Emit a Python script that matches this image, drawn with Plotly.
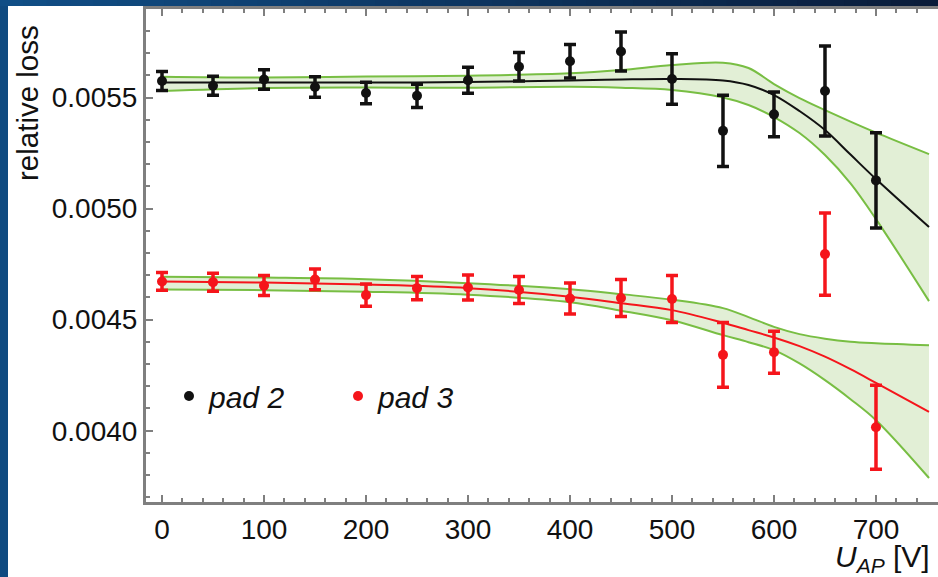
import plotly.graph_objects as go

# Measured points: applied voltage U_AP [V] and relative loss for two pads
volts = [0, 50, 100, 150, 200, 250, 300, 350, 400, 450, 500, 550, 600, 650, 700]

pad2 = [0.0055743, 0.0055527, 0.0055811, 0.0055473, 0.0055203, 0.0055077, 0.0055779,
        0.0056387, 0.0056635, 0.0057072, 0.0055833, 0.0053500, 0.0054243, 0.0055293, 0.0051270]
pad2_err = [0.0000428, 0.0000428, 0.0000435, 0.0000460, 0.0000480, 0.0000525, 0.0000585,
            0.0000646, 0.0000750, 0.0000878, 0.0001140, 0.0001600, 0.0001010, 0.0002030, 0.0002140]

pad3 = [0.0046720, 0.0046689, 0.0046532, 0.0046811, 0.0046104, 0.0046419, 0.0046450,
        0.0046338, 0.0045955, 0.0045977, 0.0045932, 0.0043414, 0.0043536, 0.0047950, 0.0040158]
pad3_err = [0.0000400, 0.0000405, 0.0000450, 0.0000470, 0.0000500, 0.0000520, 0.0000560,
            0.0000610, 0.0000700, 0.0000830, 0.0001060, 0.0001460, 0.0000946, 0.0001850, 0.0001890]

# Fit curves with confidence bands
fit_v = [0, 100, 200, 300, 400, 450, 500, 550, 575, 600, 625, 650, 675, 700, 752]

pad2_fit = [0.0055676, 0.0055676, 0.0055676, 0.0055698, 0.0055766, 0.0055811, 0.0055833,
            0.0055766, 0.0055563, 0.0055113, 0.0054392, 0.0053536, 0.0052432, 0.0051329, 0.0049167]
pad2_hi = [0.0055937, 0.0055901, 0.0055946, 0.0055982, 0.0056090, 0.0056239, 0.0056464,
           0.0056568, 0.0056329, 0.0055608, 0.0054977, 0.0054437, 0.0053919, 0.0053423, 0.0052455]
pad2_lo = [0.0055293, 0.0055428, 0.0055450, 0.0055441, 0.0055486, 0.0055441, 0.0055338,
           0.0055000, 0.0054662, 0.0054122, 0.0053401, 0.0052410, 0.0051135, 0.0049527, 0.0045833]

pad3_fit = [0.0046712, 0.0046667, 0.0046577, 0.0046419, 0.0046036, 0.0045743, 0.0045428,
            0.0044856, 0.0044527, 0.0044198, 0.0043806, 0.0043333, 0.0042770, 0.0042153, 0.0040847]
pad3_hi = [0.0046928, 0.0046892, 0.0046824, 0.0046644, 0.0046374, 0.0046149, 0.0045896,
           0.0045518, 0.0045113, 0.0044676, 0.0044347, 0.0044144, 0.0044009, 0.0043941, 0.0043851]
pad3_lo = [0.0046360, 0.0046329, 0.0046261, 0.0046126, 0.0045788, 0.0045405, 0.0044977,
           0.0044302, 0.0043986, 0.0043626, 0.0043027, 0.0042275, 0.0041419, 0.0040473, 0.0037869]

x_ticks = [0, 100, 200, 300, 400, 500, 600, 700]
y_ticks = [0.0040, 0.0045, 0.0050, 0.0055]

BAND_LINE = "#78be43"
BAND_FILL = "#e2efd6"
RED = "#f5151b"
BLACK = "#111111"
FRAME = "#7f7f7f"
FONT = "Liberation Sans"

W, H = 938, 577
ML, MR, MT, MB = 146, 0, 9, 75
PW, PH = W - ML - MR, H - MT - MB


def px_x(p):
    return (p - ML) / PW


def px_y(p):
    return (H - MB - p) / PH


fig = go.Figure()


def add_band(lo, hi):
    fig.add_trace(go.Scatter(x=fit_v, y=lo, mode="lines", line=dict(color=BAND_LINE, width=2, shape="spline"),
                             showlegend=False, hoverinfo="skip"))
    fig.add_trace(go.Scatter(x=fit_v, y=hi, mode="lines", line=dict(color=BAND_LINE, width=2, shape="spline"),
                             fill="tonexty", fillcolor=BAND_FILL, showlegend=False, hoverinfo="skip"))


add_band(pad3_lo, pad3_hi)
add_band(pad2_lo, pad2_hi)

fig.add_trace(go.Scatter(x=fit_v, y=pad3_fit, mode="lines", line=dict(color=RED, width=2, shape="spline"),
                         showlegend=False, hoverinfo="skip"))
fig.add_trace(go.Scatter(x=fit_v, y=pad2_fit, mode="lines", line=dict(color=BLACK, width=2, shape="spline"),
                         showlegend=False, hoverinfo="skip"))

fig.add_trace(go.Scatter(
    x=volts, y=pad2, mode="markers", name="<i>pad 2</i>",
    marker=dict(size=10, color=BLACK),
    error_y=dict(type="data", array=pad2_err, color=BLACK, thickness=3.5, width=6),
))
fig.add_trace(go.Scatter(
    x=volts, y=pad3, mode="markers", name="<i>pad 3</i>",
    marker=dict(size=10, color=RED),
    error_y=dict(type="data", array=pad3_err, color=RED, thickness=3.5, width=6),
))

axis_common = dict(
    showgrid=False, zeroline=False,
    showline=True, linecolor=FRAME, linewidth=3,
    ticks="inside", ticklen=7, tickwidth=2, tickcolor=FRAME,
    tickfont=dict(family=FONT, size=28, color="#111111"),
)

fig.update_xaxes(
    range=[-15.7, 760.8], tickvals=x_ticks, mirror="ticks",
    minor=dict(dtick=20, ticks="inside", ticklen=4, tickwidth=2, tickcolor=FRAME),
    **axis_common,
)
fig.update_yaxes(
    range=[0.003679, 0.0058986], tickvals=y_ticks, tickformat=".4f",
    minor=dict(dtick=0.0001, ticks="inside", ticklen=4, tickwidth=2, tickcolor=FRAME),
    **axis_common,
)

# slide frame decorations: left bar and graded top bar
shapes = [dict(type="rect", xref="paper", yref="paper",
               x0=px_x(0), x1=px_x(8), y0=px_y(H), y1=px_y(0),
               fillcolor="#0f4a80", line=dict(width=0), layer="above")]
n_seg = 40
c0, c1 = (16, 78, 134), (10, 28, 58)
for i in range(n_seg):
    t = i / (n_seg - 1)
    col = tuple(round(a + (b - a) * t) for a, b in zip(c0, c1))
    shapes.append(dict(type="rect", xref="paper", yref="paper",
                       x0=px_x(i * W / n_seg), x1=px_x((i + 1) * W / n_seg + 1),
                       y0=px_y(6), y1=px_y(0),
                       fillcolor="rgb(%d,%d,%d)" % col, line=dict(width=0), layer="above"))

annotations = [
    dict(text="relative loss", textangle=-90, xref="paper", yref="paper",
         x=px_x(28), y=px_y(103), xanchor="center", yanchor="middle", showarrow=False,
         font=dict(family=FONT, size=29.5, color="#111111")),
    dict(text="<i>U</i><sub><i>AP</i></sub> [V]", xref="paper", yref="paper",
         x=px_x(932), y=px_y(558), xanchor="right", yanchor="middle", showarrow=False,
         font=dict(family=FONT, size=30, color="#111111")),
]

fig.update_layout(
    width=W, height=H,
    margin=dict(l=ML, r=MR, t=MT, b=MB),
    paper_bgcolor="white", plot_bgcolor="white",
    shapes=shapes, annotations=annotations,
    legend=dict(orientation="h", x=px_x(169), y=px_y(396), xanchor="left", yanchor="middle",
                traceorder="normal",
                bgcolor="rgba(0,0,0,0)", font=dict(family=FONT, size=30, color="#111111"),
                entrywidth=124, itemclick=False),
    showlegend=True,
)

fig.write_html("out.html")
